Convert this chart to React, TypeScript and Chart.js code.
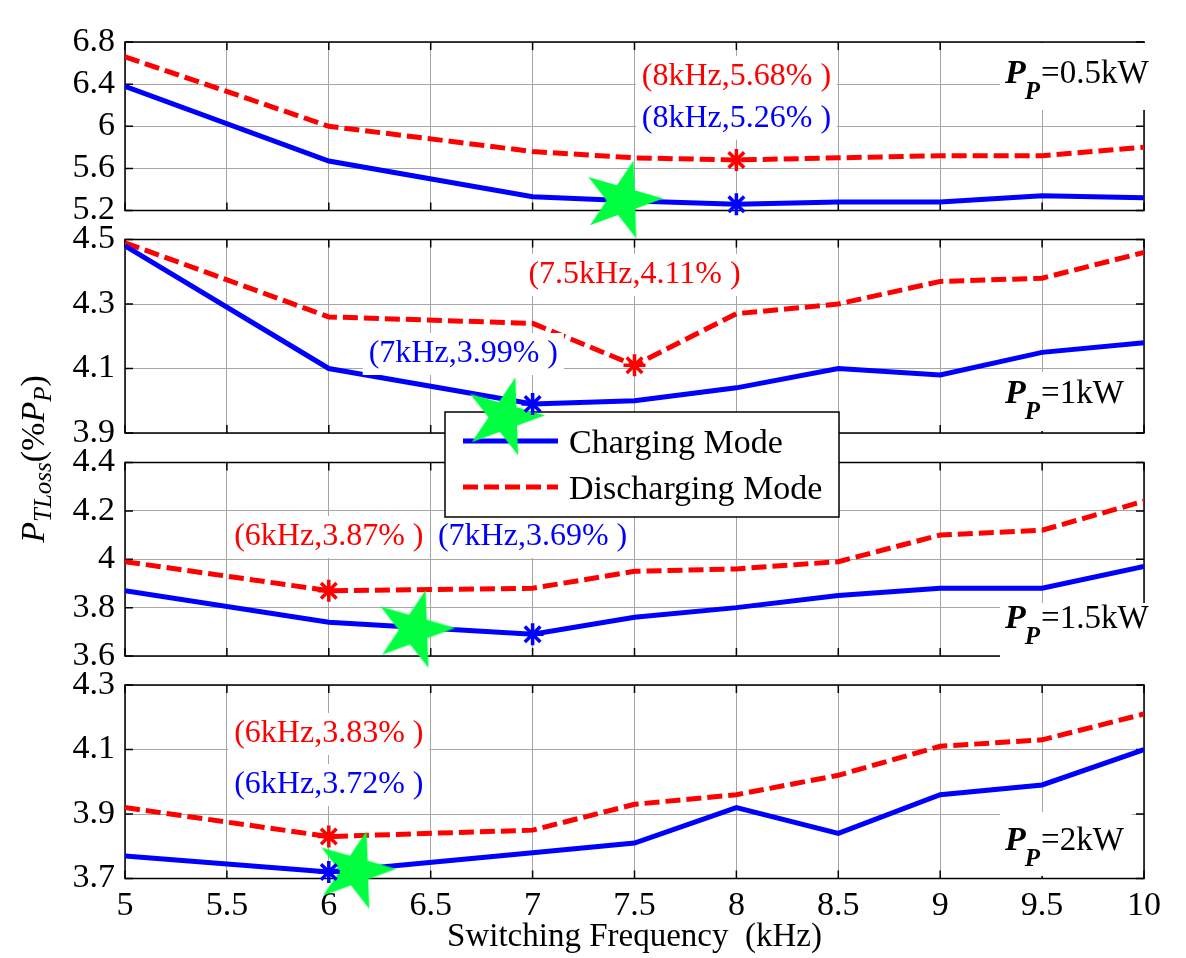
import React, { useEffect, useRef } from 'react';
import { Chart, registerables } from 'chart.js';

Chart.register(...registerables);

// ---------------- data ----------------
const FREQ_KHZ = [5, 6, 7, 7.5, 8, 8.5, 9, 9.5, 10];
const X_TICKS = [5, 5.5, 6, 6.5, 7, 7.5, 8, 8.5, 9, 9.5, 10];
const SERIES_NAMES = ['Charging Mode', 'Discharging Mode'];
const POWER_LEVELS = ['0.5kW', '1kW', '1.5kW', '2kW'];

const CHARGING_05 = [6.38, 5.67, 5.33, 5.29, 5.26, 5.28, 5.28, 5.34, 5.32];
const DISCHARGING_05 = [6.66, 6.0, 5.76, 5.7, 5.68, 5.7, 5.72, 5.72, 5.8];
const CHARGING_1 = [4.48, 4.1, 3.99, 4.0, 4.04, 4.1, 4.08, 4.15, 4.18];
const DISCHARGING_1 = [4.49, 4.26, 4.24, 4.11, 4.27, 4.3, 4.37, 4.38, 4.46];
const CHARGING_15 = [3.87, 3.74, 3.69, 3.76, 3.8, 3.85, 3.88, 3.88, 3.97];
const DISCHARGING_15 = [3.99, 3.87, 3.88, 3.95, 3.96, 3.99, 4.1, 4.12, 4.24];
const CHARGING_2 = [3.77, 3.72, 3.78, 3.81, 3.92, 3.84, 3.96, 3.99, 4.1];
const DISCHARGING_2 = [3.92, 3.83, 3.85, 3.93, 3.96, 4.02, 4.11, 4.13, 4.21];

const Y_TICKS_05 = [5.2, 5.6, 6, 6.4, 6.8];
const Y_TICKS_1 = [3.9, 4.1, 4.3, 4.5];
const Y_TICKS_15 = [3.6, 3.8, 4, 4.2, 4.4];
const Y_TICKS_2 = [3.7, 3.9, 4.1, 4.3];

// minimum points [kHz, %]
const MIN_CHARGING = [[8, 5.26], [7, 3.99], [7, 3.69], [6, 3.72]];
const MIN_DISCHARGING = [[8, 5.68], [7.5, 4.11], [6, 3.87], [6, 3.83]];
// green star markers [kHz, %]
const OPTIMUM_STAR = [[7.44, 5.3], [6.86, 3.95], [6.42, 3.71], [6.13, 3.725]];

// ---------------- layout / style ----------------
const W = 1186;
const H = 958;
const FONT = "'Liberation Serif', 'Times New Roman', serif";
const BLUE = '#0000ff';
const RED = '#ff0000';
const GREEN = '#00ff40';
const GRID = '#a6a6a6';
const PLOT_LEFT = 125;
const PLOT_RIGHT = 1163;
const PANEL_TOPS = [17, 239.5, 462.5, 685];
const PANEL_H = 193.5;
const Y_AXIS_W = 60;
const X_AXIS_H = 80;
const TICK_LEN = 8;
const LINE_W = 5;
const DASH = [15, 6];
const TICK_FONT_SIZE = 34;
// annotation anchors in data coords (centre of text)
const TAG_POS = [
  { red: [8, 6.469], blue: [8, 6.072] },
  { red: [7.5, 4.39], blue: [6.66, 4.145] },
  { red: [6, 4.092], blue: [7, 4.092] },
  { red: [6, 4.148], blue: [6, 3.99] },
];
const PP_BASELINE = [41, 163.5, 165.5, 165];
const PP_BG = [[-40, 27], [-31, 28], [-25, 31], [-38, 26]];
const LEGEND_BOX = { x: 445, y: 412, w: 394, h: 105 };

const PANELS = [
  { charging: CHARGING_05, discharging: DISCHARGING_05, yTicks: Y_TICKS_05, power: POWER_LEVELS[0] },
  { charging: CHARGING_1, discharging: DISCHARGING_1, yTicks: Y_TICKS_1, power: POWER_LEVELS[1] },
  { charging: CHARGING_15, discharging: DISCHARGING_15, yTicks: Y_TICKS_15, power: POWER_LEVELS[2] },
  { charging: CHARGING_2, discharging: DISCHARGING_2, yTicks: Y_TICKS_2, power: POWER_LEVELS[3] },
];

function makeStarCanvas(R: number, color: string) {
  const c = document.createElement('canvas');
  const s = Math.ceil(R * 2 + 4);
  c.width = s;
  c.height = s;
  const g = c.getContext('2d')!;
  g.translate(s / 2, s / 2);
  g.beginPath();
  const r = R * 0.382;
  const a0 = (-2 * Math.PI) / 180;
  for (let k = 0; k < 10; k++) {
    const rad = k % 2 === 0 ? R : r;
    const a = a0 + (k * Math.PI) / 5;
    const px = rad * Math.cos(a);
    const py = rad * Math.sin(a);
    if (k === 0) g.moveTo(px, py);
    else g.lineTo(px, py);
  }
  g.closePath();
  g.fillStyle = color;
  g.fill();
  return c;
}

function drawTag(ctx: CanvasRenderingContext2D, text: string, color: string, cx: number, cy: number) {
  ctx.save();
  ctx.font = `32px ${FONT}`;
  const w = ctx.measureText(text).width;
  ctx.fillStyle = '#fff';
  ctx.fillRect(cx - w / 2 - 6, cy - 21, w + 12, 42);
  ctx.fillStyle = color;
  ctx.textAlign = 'center';
  ctx.textBaseline = 'alphabetic';
  ctx.fillText(text, cx, cy + 8);
  ctx.restore();
}

function drawLegend(ctx: CanvasRenderingContext2D) {
  const L = LEGEND_BOX;
  ctx.save();
  ctx.fillStyle = '#fff';
  ctx.fillRect(L.x, L.y, L.w, L.h);
  ctx.strokeStyle = '#000';
  ctx.lineWidth = 1.5;
  ctx.strokeRect(L.x, L.y, L.w, L.h);
  const colors = [BLUE, RED];
  const dashes = [[], DASH];
  SERIES_NAMES.forEach((name, k) => {
    const y = L.y + 29 + k * 46;
    ctx.beginPath();
    ctx.setLineDash(dashes[k]);
    ctx.strokeStyle = colors[k];
    ctx.lineWidth = LINE_W;
    ctx.moveTo(L.x + 18, y);
    ctx.lineTo(L.x + 113, y);
    ctx.stroke();
    ctx.setLineDash([]);
    ctx.fillStyle = '#000';
    ctx.font = `34px ${FONT}`;
    ctx.textAlign = 'left';
    ctx.textBaseline = 'alphabetic';
    ctx.fillText(name, L.x + 124, y + 12);
  });
  ctx.restore();
}

function drawYTitle(ctx: CanvasRenderingContext2D) {
  const parts = [
    { t: 'P', f: `italic 34px ${FONT}`, dy: 0 },
    { t: 'TLoss', f: `italic 25px ${FONT}`, dy: 7 },
    { t: '(%', f: `34px ${FONT}`, dy: 0 },
    { t: 'P', f: `italic 34px ${FONT}`, dy: 0 },
    { t: 'P', f: `italic 25px ${FONT}`, dy: 7 },
    { t: ')', f: `34px ${FONT}`, dy: 0 },
  ];
  ctx.save();
  ctx.translate(44, 459);
  ctx.rotate(-Math.PI / 2);
  let total = 0;
  const widths = parts.map((p) => {
    ctx.font = p.f;
    const w = ctx.measureText(p.t).width;
    total += w;
    return w;
  });
  let x = -total / 2;
  ctx.fillStyle = '#000';
  ctx.textBaseline = 'alphabetic';
  ctx.textAlign = 'left';
  parts.forEach((p, k) => {
    ctx.font = p.f;
    ctx.fillText(p.t, x, p.dy);
    x += widths[k];
  });
  ctx.restore();
}

function drawPowerLabel(ctx: CanvasRenderingContext2D, power: string, top: number, i: number) {
  const base = top + PP_BASELINE[i];
  const x0 = 1005;
  ctx.save();
  ctx.font = `bold italic 34px ${FONT}`;
  const wP = ctx.measureText('P').width;
  ctx.font = `bold italic 25px ${FONT}`;
  const wSub = ctx.measureText('P').width;
  ctx.font = `33px ${FONT}`;
  const rest = '=' + power;
  const wRest = ctx.measureText(rest).width;
  const end = Math.min(x0 + wP + wSub + wRest + 8, PLOT_RIGHT - 2);
  ctx.fillStyle = '#fff';
  ctx.fillRect(1000, base + PP_BG[i][0], end - 1000, PP_BG[i][1] - PP_BG[i][0]);
  ctx.fillStyle = '#000';
  ctx.textBaseline = 'alphabetic';
  ctx.textAlign = 'left';
  ctx.font = `bold italic 34px ${FONT}`;
  ctx.fillText('P', x0, base);
  ctx.font = `bold italic 25px ${FONT}`;
  ctx.fillText('P', x0 + wP - 1, base + 16);
  ctx.font = `33px ${FONT}`;
  ctx.fillText(rest, x0 + wP + wSub, base);
  ctx.restore();
}

function buildConfig(i: number, star: HTMLCanvasElement): any {
  const p = PANELS[i];
  const isBottom = i === PANELS.length - 1;
  const top = PANEL_TOPS[i];
  const bottom = top + PANEL_H;
  const pts = (ys: number[]) => FREQ_KHZ.map((x, k) => ({ x, y: ys[k] }));
  const tickFont = { family: FONT, size: TICK_FONT_SIZE, lineHeight: 1 };

  const deco = {
    id: 'deco' + i,
    beforeDatasetsDraw(chart: any) {
      const ctx = chart.ctx as CanvasRenderingContext2D;
      const a = chart.chartArea;
      const xs = chart.scales.x;
      const ys = chart.scales.y;
      ctx.save();
      ctx.strokeStyle = '#000';
      ctx.lineWidth = 1.5;
      ctx.strokeRect(a.left, a.top, a.right - a.left, a.bottom - a.top);
      ctx.beginPath();
      X_TICKS.forEach((v) => {
        const px = xs.getPixelForValue(v);
        ctx.moveTo(px, a.bottom);
        ctx.lineTo(px, a.bottom - TICK_LEN);
        ctx.moveTo(px, a.top);
        ctx.lineTo(px, a.top + TICK_LEN);
      });
      p.yTicks.forEach((v) => {
        const py = ys.getPixelForValue(v);
        ctx.moveTo(a.left, py);
        ctx.lineTo(a.left + TICK_LEN, py);
        ctx.moveTo(a.right, py);
        ctx.lineTo(a.right - TICK_LEN, py);
      });
      ctx.stroke();
      ctx.restore();
      if (i === 1) drawLegend(ctx);
    },
    afterDatasetsDraw(chart: any) {
      const ctx = chart.ctx as CanvasRenderingContext2D;
      const xs = chart.scales.x;
      const ys = chart.scales.y;
      const pos = TAG_POS[i];
      const [rx, ry] = MIN_DISCHARGING[i];
      const [bx, by] = MIN_CHARGING[i];
      drawTag(ctx, `(${rx}kHz,${ry.toFixed(2)}% )`, RED, xs.getPixelForValue(pos.red[0]), ys.getPixelForValue(pos.red[1]));
      drawTag(ctx, `(${bx}kHz,${by.toFixed(2)}% )`, BLUE, xs.getPixelForValue(pos.blue[0]), ys.getPixelForValue(pos.blue[1]));
      drawPowerLabel(ctx, p.power, chart.chartArea.top, i);
    },
    afterDraw(chart: any) {
      if (isBottom) drawYTitle(chart.ctx);
    },
  };

  return {
    type: 'line',
    data: {
      datasets: [
        {
          label: 'min-charging',
          data: [{ x: MIN_CHARGING[i][0], y: MIN_CHARGING[i][1] }],
          showLine: false,
          pointStyle: 'star',
          pointRadius: 11,
          pointBorderWidth: 3.5,
          pointBorderColor: BLUE,
          pointBackgroundColor: BLUE,
          clip: false,
        },
        {
          label: 'min-discharging',
          data: [{ x: MIN_DISCHARGING[i][0], y: MIN_DISCHARGING[i][1] }],
          showLine: false,
          pointStyle: 'star',
          pointRadius: 11,
          pointBorderWidth: 3.5,
          pointBorderColor: RED,
          pointBackgroundColor: RED,
          clip: false,
        },
        {
          label: 'optimum',
          data: [{ x: OPTIMUM_STAR[i][0], y: OPTIMUM_STAR[i][1] }],
          showLine: false,
          pointStyle: star,
          pointRadius: 41,
          clip: false,
        },
        {
          label: SERIES_NAMES[0],
          data: pts(p.charging),
          borderColor: BLUE,
          borderWidth: LINE_W,
          pointRadius: 0,
          fill: false,
          tension: 0,
        },
        {
          label: SERIES_NAMES[1],
          data: pts(p.discharging),
          borderColor: RED,
          borderWidth: LINE_W,
          borderDash: DASH,
          pointRadius: 0,
          fill: false,
          tension: 0,
        },
      ],
    },
    options: {
      animation: false,
      responsive: false,
      devicePixelRatio: 1,
      events: [],
      layout: {
        padding: {
          left: PLOT_LEFT - Y_AXIS_W,
          right: W - PLOT_RIGHT,
          top: top,
          bottom: isBottom ? H - bottom - X_AXIS_H : H - bottom,
        },
      },
      plugins: { legend: { display: false }, tooltip: { enabled: false } },
      scales: {
        x: {
          type: 'linear',
          min: 5,
          max: 10,
          afterBuildTicks: (ax: any) => {
            ax.ticks = X_TICKS.map((v) => ({ value: v }));
          },
          afterFit: (s: any) => {
            s.height = isBottom ? X_AXIS_H : 0;
          },
          ticks: {
            display: isBottom,
            font: tickFont,
            color: '#000',
            padding: 11,
            maxRotation: 0,
            autoSkip: false,
            callback: (v: number) => String(v),
          },
          grid: { color: GRID, lineWidth: 1, drawTicks: false },
          border: { display: false },
          title: {
            display: isBottom,
            text: 'Switching Frequency  (kHz)',
            color: '#000',
            font: { family: FONT, size: 33 },
            padding: { top: 0, bottom: 1 },
          },
        },
        y: {
          type: 'linear',
          min: p.yTicks[0],
          max: p.yTicks[p.yTicks.length - 1],
          afterBuildTicks: (ax: any) => {
            ax.ticks = p.yTicks.map((v) => ({ value: v }));
          },
          afterFit: (s: any) => {
            s.width = Y_AXIS_W;
          },
          ticks: {
            font: tickFont,
            color: '#000',
            padding: 10,
            callback: (v: number) => String(v),
          },
          grid: { color: GRID, lineWidth: 1, drawTicks: false },
          border: { display: false },
        },
      },
    },
    plugins: [deco],
  };
}

export default function App() {
  const r0 = useRef<HTMLCanvasElement>(null);
  const r1 = useRef<HTMLCanvasElement>(null);
  const r2 = useRef<HTMLCanvasElement>(null);
  const r3 = useRef<HTMLCanvasElement>(null);
  const refs = [r0, r1, r2, r3];

  useEffect(() => {
    const star = makeStarCanvas(41, GREEN);
    const charts = refs.map((r, i) => new Chart(r.current as HTMLCanvasElement, buildConfig(i, star)));
    return () => charts.forEach((c) => c.destroy());
  }, []);

  // bottom panel first so upper panels stack above
  const order = [3, 2, 1, 0];
  return (
    <div style={{ position: 'absolute', left: 0, top: 0, width: W, height: H, background: '#fff', overflow: 'hidden' }}>
      {order.map((i) => (
        <canvas
          key={i}
          ref={refs[i]}
          width={W}
          height={H}
          style={{ position: 'absolute', left: 0, top: 0, width: W, height: H }}
        />
      ))}
    </div>
  );
}
